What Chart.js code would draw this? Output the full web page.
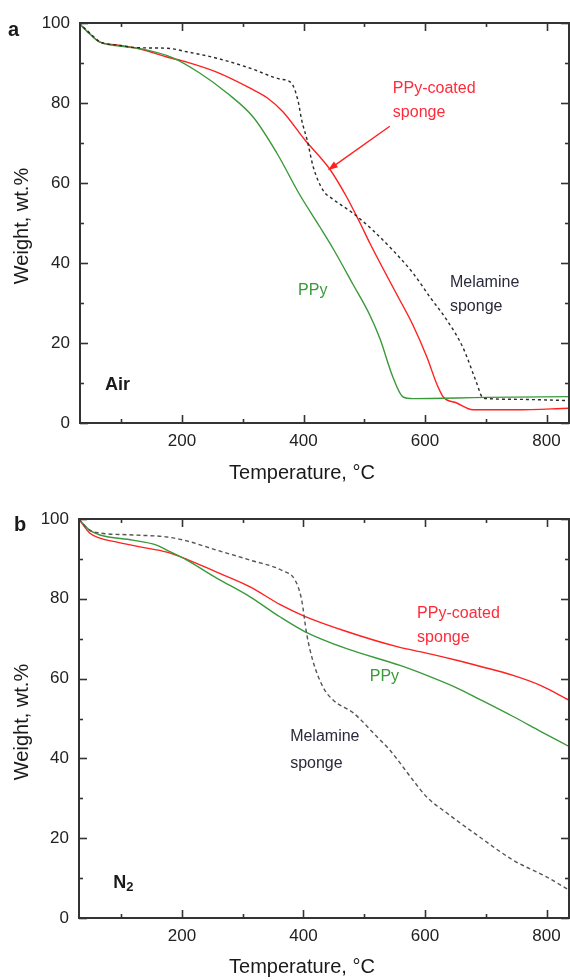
<!DOCTYPE html>
<html>
<head>
<meta charset="utf-8">
<script src="https://cdn.jsdelivr.net/npm/chart.js@4.4.0/dist/chart.umd.min.js"></script>
<style>
  html, body { margin: 0; padding: 0; background: #fff; overflow: hidden; }
  .panel { position: absolute; left: 0; width: 570px; height: 490px; }
</style>
</head>
<body>
<div class="panel" style="top:0"><canvas id="chartAir" width="570" height="490"></canvas></div>
<div class="panel" style="top:490px"><canvas id="chartN2" width="570" height="490"></canvas></div>
<script>
// Tick values
const xMajorTicks = [200, 400, 600, 800];
const xMinorTicks = [100, 300, 500, 700];
const yMajorTicks = [0, 20, 40, 60, 80, 100];
const yMinorTicks = [10, 30, 50, 70, 90];

// Panel a: in air (temperature °C / weight wt.%)
const airMelamineT = [30, 48, 65, 93, 131, 175, 208, 257, 312, 361, 380, 391, 397, 406, 416, 432, 448, 481, 514, 547, 580, 608, 636, 662, 685, 694, 702, 760, 837];
const airMelamineW = [100, 97.5, 95.3, 94.5, 93.8, 93.7, 92.8, 91.2, 88.7, 86, 85, 80.5, 75.7, 70.7, 64, 58.2, 56, 52.5, 48.2, 43.2, 37.5, 31.5, 25.7, 19, 10, 6.5, 6.1, 5.9, 5.6];
const airCoatedT = [30, 48, 65, 93, 131, 175, 208, 257, 312, 340, 366, 402, 443, 471, 493, 509, 526, 554, 580, 603, 620, 630, 652, 679, 750, 837];
const airCoatedW = [100, 97.3, 95.2, 94.5, 93.5, 91.5, 90.2, 87.7, 83.7, 81.3, 77.8, 70.8, 63.5, 56.5, 50, 45, 40, 32, 24.5, 16.5, 9.5, 6.5, 5, 3.3, 3.3, 3.7];
const airPpyT = [30, 48, 65, 93, 131, 185, 229, 274, 317, 356, 394, 427, 449, 482, 509, 526, 547, 564, 580, 700, 837];
const airPpyW = [100, 97.3, 95.2, 94.3, 93.6, 91.3, 87.5, 82.5, 76.5, 67.5, 57, 49, 43.5, 34.5, 27, 21, 11.5, 6.5, 6.1, 6.4, 6.6];

// Panel b: in N2
const n2MelamineT = [30, 48, 65, 119, 175, 208, 257, 312, 366, 386, 397, 405, 415, 432, 449, 482, 521, 542, 580, 603, 636, 690, 745, 800, 837];
const n2MelamineW = [100, 97.2, 96.5, 96, 95.5, 94.5, 92.2, 89.7, 87, 84.7, 79.7, 71.4, 64.7, 57.9, 54.6, 51.4, 45.4, 42.1, 34.6, 30.3, 26.3, 20.3, 14.5, 10.3, 7];
const n2CoatedT = [30, 48, 65, 93, 131, 175, 208, 257, 312, 361, 402, 471, 554, 608, 652, 690, 745, 790, 837];
const n2CoatedW = [100, 96.5, 95.2, 94.2, 93, 91.7, 89.9, 86.7, 83, 78.6, 75.6, 71.8, 68, 66.2, 64.6, 63.1, 60.8, 58.3, 54.6];
const n2PpyT = [30, 48, 65, 119, 157, 175, 208, 257, 312, 361, 402, 471, 559, 608, 652, 690, 745, 790, 837];
const n2PpyW = [100, 97.2, 96, 94.7, 93.5, 92.2, 89.7, 85.2, 80.5, 75.5, 71.8, 67.5, 63.3, 60.5, 57.7, 54.8, 50.5, 46.8, 43];

const FONT = "'Liberation Sans', Arial, sans-serif";
const RED = '#ff2020';
const GREEN = '#3a9a3a';
const AXIS = '#333333';

function toPoints(ts, ws) {
  return ts.map((t, i) => ({ x: t, y: ws[i] }));
}

function series(ts, ws, color, dash, width) {
  return {
    data: toPoints(ts, ws),
    borderColor: color,
    borderWidth: width || 1.4,
    borderDash: dash || [],
    pointRadius: 0,
    fill: false,
    cubicInterpolationMode: 'monotone'
  };
}

// Frame, inward ticks, axis titles and in-plot notes
function framePlugin(cfg) {
  return {
    id: 'frame',
    afterDraw(chart) {
      const { ctx, chartArea: a, scales: { x, y } } = chart;
      ctx.save();
      ctx.strokeStyle = AXIS;
      ctx.lineWidth = 2;
      ctx.strokeRect(a.left, a.top, a.right - a.left, a.bottom - a.top);

      ctx.lineWidth = 1.6;
      const tick = (x1, y1, x2, y2) => { ctx.beginPath(); ctx.moveTo(x1, y1); ctx.lineTo(x2, y2); ctx.stroke(); };
      xMajorTicks.concat(xMinorTicks).forEach(v => {
        const len = xMajorTicks.includes(v) ? 8 : 4;
        const px = Math.round(x.getPixelForValue(v)) + 0.5;
        tick(px, a.bottom, px, a.bottom - len);
        tick(px, a.top, px, a.top + len);
      });
      yMajorTicks.concat(yMinorTicks).forEach(v => {
        const len = yMajorTicks.includes(v) ? 8 : 4;
        const py = Math.round(y.getPixelForValue(v)) + 0.5;
        tick(a.left, py, a.left + len, py);
        tick(a.right, py, a.right - len, py);
      });

      // axis titles
      ctx.fillStyle = '#1a1a1a';
      ctx.font = '20px ' + FONT;
      ctx.textAlign = 'center';
      ctx.textBaseline = 'middle';
      ctx.fillText('Temperature, \u00b0C', 302, cfg.xTitleY);
      ctx.save();
      ctx.translate(22, cfg.yTitleY);
      ctx.rotate(-Math.PI / 2);
      ctx.fillText('Weight, wt.%', 0, 0);
      ctx.restore();

      // panel letter
      ctx.font = 'bold 20px ' + FONT;
      ctx.textAlign = 'left';
      ctx.fillText(cfg.letter, cfg.letterX, cfg.letterY);

      // notes placed in data units
      ctx.beginPath();
      ctx.rect(a.left, a.top, a.right - a.left, a.bottom - a.top);
      ctx.clip();
      cfg.notes.forEach(n => {
        ctx.font = (n.bold ? 'bold ' : '') + n.size + 'px ' + FONT;
        ctx.fillStyle = n.color;
        const px = x.getPixelForValue(n.x);
        const py = y.getPixelForValue(n.y);
        ctx.fillText(n.text, px, py);
        if (n.sub) {
          const w = ctx.measureText(n.text).width;
          ctx.font = 'bold ' + Math.round(n.size * 0.7) + 'px ' + FONT;
          ctx.fillText(n.sub, px + w, py + 5);
        }
      });

      if (cfg.arrow) {
        const ar = cfg.arrow;
        const x1 = x.getPixelForValue(ar.fromX), y1 = y.getPixelForValue(ar.fromY);
        const x2 = x.getPixelForValue(ar.toX), y2 = y.getPixelForValue(ar.toY);
        const ang = Math.atan2(y2 - y1, x2 - x1);
        ctx.strokeStyle = RED;
        ctx.fillStyle = RED;
        ctx.lineWidth = 1.4;
        ctx.beginPath();
        ctx.moveTo(x1, y1);
        ctx.lineTo(x2 - 8 * Math.cos(ang), y2 - 8 * Math.sin(ang));
        ctx.stroke();
        ctx.beginPath();
        ctx.moveTo(x2, y2);
        ctx.lineTo(x2 - 10 * Math.cos(ang) + 3.5 * Math.sin(ang), y2 - 10 * Math.sin(ang) - 3.5 * Math.cos(ang));
        ctx.lineTo(x2 - 10 * Math.cos(ang) - 3.5 * Math.sin(ang), y2 - 10 * Math.sin(ang) + 3.5 * Math.cos(ang));
        ctx.closePath();
        ctx.fill();
      }
      ctx.restore();
    }
  };
}

function makePanel(id, datasets, cfg) {
  const tickFont = { family: FONT, size: 17 };
  return new Chart(document.getElementById(id), {
    type: 'line',
    data: { datasets },
    options: {
      responsive: false,
      animation: false,
      events: [],
      layout: { padding: { top: cfg.top, right: 1, left: 0, bottom: 0 } },
      plugins: { legend: { display: false }, tooltip: { enabled: false } },
      scales: {
        x: {
          type: 'linear',
          min: cfg.xMin,
          max: 837,
          afterFit: s => { s.height = cfg.xAxisHeight; },
          afterBuildTicks: s => { s.ticks = xMajorTicks.map(v => ({ value: v })); },
          grid: { display: false, drawTicks: false },
          border: { display: false },
          ticks: { font: tickFont, color: '#222', padding: 8, maxRotation: 0, autoSkip: false }
        },
        y: {
          min: 0,
          max: 100,
          afterFit: s => { s.width = cfg.left; },
          afterBuildTicks: s => { s.ticks = yMajorTicks.map(v => ({ value: v })); },
          grid: { display: false, drawTicks: false },
          border: { display: false },
          ticks: { font: tickFont, color: '#222', padding: 10 }
        }
      }
    },
    plugins: [framePlugin(cfg)]
  });
}

makePanel('chartAir', [
  series(airMelamineT, airMelamineW, '#2a2a2a', [3, 3], 1.4),
  series(airPpyT, airPpyW, GREEN),
  series(airCoatedT, airCoatedW, RED)
], {
  top: 23, left: 80, xMin: 32, xAxisHeight: 67,
  xTitleY: 473, yTitleY: 226,
  letter: 'a', letterX: 8, letterY: 30,
  notes: [
    { text: 'PPy-coated', x: 547, y: 83.7, color: '#ff2a3a', size: 16 },
    { text: 'sponge', x: 547, y: 77.5, color: '#ff2a3a', size: 16 },
    { text: 'PPy', x: 391, y: 33.2, color: GREEN, size: 16 },
    { text: 'Melamine', x: 641, y: 35.2, color: '#2a2a3a', size: 16 },
    { text: 'sponge', x: 641, y: 29, color: '#2a2a3a', size: 16 },
    { text: 'Air', x: 73, y: 9.5, color: '#1a1a1a', size: 18, bold: true }
  ],
  arrow: { fromX: 542, fromY: 74.2, toX: 440, toY: 63.2 }
});

makePanel('chartN2', [
  series(n2MelamineT, n2MelamineW, '#555555', [4, 3], 1.4),
  series(n2PpyT, n2PpyW, GREEN),
  series(n2CoatedT, n2CoatedW, RED)
], {
  top: 29, left: 79, xMin: 30.5, xAxisHeight: 62,
  xTitleY: 477, yTitleY: 232,
  letter: 'b', letterX: 14, letterY: 35,
  notes: [
    { text: 'PPy-coated', x: 587, y: 76.4, color: '#ff2a3a', size: 16 },
    { text: 'sponge', x: 587, y: 70.2, color: '#ff2a3a', size: 16 },
    { text: 'PPy', x: 509, y: 60.4, color: GREEN, size: 16 },
    { text: 'Melamine', x: 378, y: 45.4, color: '#2a2a3a', size: 16 },
    { text: 'sponge', x: 378, y: 38.8, color: '#2a2a3a', size: 16 },
    { text: 'N', sub: '2', x: 87, y: 8.8, color: '#1a1a1a', size: 18, bold: true }
  ]
});
</script>
</body>
</html>
